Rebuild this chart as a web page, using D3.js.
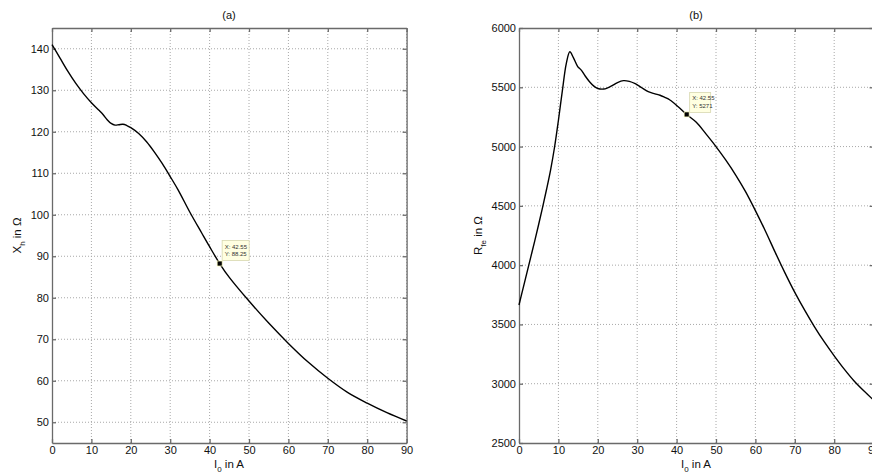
<!DOCTYPE html>
<html>
<head>
<meta charset="utf-8">
<script src="https://cdn.jsdelivr.net/npm/d3@7/dist/d3.min.js"></script>
<style>
  html, body { margin: 0; padding: 0; background: #fff; }
  svg { display: block; font-family: "Liberation Sans", Arial, sans-serif; }
</style>
</head>
<body>
<svg id="chart" width="872" height="472"></svg>
<script>
// ---- data ----
const xTicks = [0, 10, 20, 30, 40, 50, 60, 70, 80, 90];
const yTicksA = [50, 60, 70, 80, 90, 100, 110, 120, 130, 140];
const yTicksB = [2500, 3000, 3500, 4000, 4500, 5000, 5500, 6000];

const currentA = [0, 2, 4, 6, 8, 10, 12, 13, 14, 15, 16, 17, 18, 19, 20, 22, 24, 26, 28, 30, 32, 35, 38, 40, 42.55, 45, 50, 55, 60, 65, 70, 75, 80, 85, 90];
const xhA = [141, 137.8, 134.6, 131.7, 129.2, 127, 125.1, 124.1, 122.9, 122, 121.6, 121.7, 121.8, 121.5, 121, 119.6, 117.6, 115.1, 112.3, 109.2, 106.0, 100.6, 95.6, 92.3, 88.25, 84.9, 79.2, 73.9, 69, 64.5, 60.6, 57.2, 54.6, 52.3, 50.3];

const currentB = [0, 1, 2, 3, 4, 5, 6, 7, 8, 9, 10, 11, 12, 12.9, 13.8, 14.9, 15.8, 16.8, 17.9, 19, 20, 21.5, 22.5, 23.5, 25, 26.5, 28, 29.5, 31, 32.8, 34.5, 35.8, 37, 38.3, 40.4, 42.55, 45, 47.5, 50, 52.5, 55, 57.5, 60, 62.5, 65, 67.5, 70, 72.5, 75, 77.5, 80, 82.5, 85, 87.5, 90];
const rfeB = [3664, 3800, 3935, 4070, 4205, 4345, 4490, 4640, 4800, 4990, 5220, 5470, 5700, 5800, 5750, 5675, 5645, 5595, 5547, 5510, 5490, 5485, 5495, 5511, 5540, 5556, 5550, 5530, 5500, 5463, 5445, 5433, 5415, 5393, 5336, 5271, 5205, 5105, 5000, 4885, 4760, 4620, 4460, 4290, 4110, 3935, 3770, 3620, 3480, 3352, 3235, 3125, 3025, 2940, 2862];

const tipA = {x: 42.55, y: 88.25, lines: ["X: 42.55", "Y: 88.25"]};
const tipB = {x: 42.55, y: 5271, lines: ["X: 42.55", "Y: 5271"]};

// ---- drawing ----
const svg = d3.select("#chart");

function panel(opts) {
  const {left, right, top, bottom, xs, yDomain, yTicks, title, ylab, ysub, tip, tipDx, tipDy} = opts;
  const x = d3.scaleLinear().domain([0, 90]).range([left, right]);
  const y = d3.scaleLinear().domain(yDomain).range([bottom, top]);
  const g = svg.append("g");

  // grid
  g.append("g").selectAll("line").data(xTicks.slice(1)).join("line")
    .attr("x1", d => x(d)).attr("x2", d => x(d)).attr("y1", top).attr("y2", bottom)
    .attr("stroke", "#a8a8a8").attr("stroke-width", 1).attr("stroke-dasharray", "1,2");
  g.append("g").selectAll("line").data(yTicks.filter(d => d !== yDomain[0] && d !== yDomain[1])).join("line")
    .attr("x1", left).attr("x2", right).attr("y1", d => y(d)).attr("y2", d => y(d))
    .attr("stroke", "#a8a8a8").attr("stroke-width", 1).attr("stroke-dasharray", "1,2");

  // axes (box)
  const axCol = "#6a6a6a";
  const bAx = d3.axisBottom(x).tickValues(xTicks).tickSizeInner(-4).tickSizeOuter(0).tickPadding(3).tickFormat(d3.format("d"));
  const tAx = d3.axisTop(x).tickValues(xTicks).tickSizeInner(-4).tickSizeOuter(0).tickFormat("");
  const lAx = d3.axisLeft(y).tickValues(yTicks).tickSizeInner(-4).tickSizeOuter(0).tickPadding(3).tickFormat(d3.format("d"));
  const rAx = d3.axisRight(y).tickValues(yTicks).tickSizeInner(-4).tickSizeOuter(0).tickFormat("");
  const styleAx = sel => {
    sel.select(".domain").attr("stroke", axCol).attr("stroke-width", 1.3);
    sel.selectAll(".tick line").attr("stroke", axCol).attr("stroke-width", 1.3);
    sel.selectAll(".tick text").attr("fill", "#111").style("font-size", "11px").style("font-family", "Liberation Sans, Arial, sans-serif");
  };
  g.append("g").attr("transform", `translate(0,${bottom})`).call(bAx).call(styleAx);
  g.append("g").attr("transform", `translate(0,${top})`).call(tAx).call(styleAx);
  g.append("g").attr("transform", `translate(${left},0)`).call(lAx).call(styleAx);
  g.append("g").attr("transform", `translate(${right},0)`).call(rAx).call(styleAx);

  // curve
  const data = xs.map((d, i) => [d, opts.vals[i]]);
  g.append("path").datum(data)
    .attr("fill", "none").attr("stroke", "#000").attr("stroke-width", 1.4)
    .attr("d", d3.line().x(d => x(d[0])).y(d => y(d[1])).curve(d3.curveCatmullRom.alpha(0.5)));

  // title
  g.append("text").attr("x", opts.titleX).attr("y", 19).attr("text-anchor", "middle")
    .style("font-size", "11px").attr("fill", "#111").text(title);

  // x label
  const xl = g.append("text").attr("x", opts.titleX).attr("y", 468).attr("text-anchor", "middle")
    .style("font-size", "11.5px").attr("fill", "#111");
  xl.append("tspan").text("I");
  xl.append("tspan").attr("dy", 3.5).style("font-size", "8px").text("0");
  xl.append("tspan").attr("dy", -3.5).text(" in A");

  // y label
  const yl = g.append("text").attr("transform", `translate(${opts.ylabX},${(top + bottom) / 2}) rotate(-90)`)
    .attr("text-anchor", "middle").style("font-size", "11.5px").attr("fill", "#111");
  yl.append("tspan").text(ylab);
  yl.append("tspan").attr("dy", 3.5).style("font-size", "8px").text(ysub);
  yl.append("tspan").attr("dy", -3.5).text(" in Ω");

  // datatip
  const px = x(tip.x), py = y(tip.y);
  const bx = px + tipDx, by = py + tipDy;
  g.append("rect").attr("x", bx).attr("y", by).attr("width", opts.tipW).attr("height", 20)
    .attr("fill", "#ffffe1").attr("stroke", "#d8d8b0").attr("stroke-width", 0.8);
  tip.lines.forEach((t, i) => {
    g.append("text").attr("x", bx + 2.5).attr("y", by + 8 + i * 7.5)
      .style("font-size", "6px").attr("fill", "#333").text(t);
  });
  g.append("rect").attr("x", px - 2.5).attr("y", py - 2.5).attr("width", 5).attr("height", 5)
    .attr("fill", "#000").attr("stroke", "#ffffc0").attr("stroke-width", 0.7);
}

panel({left: 52, right: 406.6, top: 28, bottom: 443, xs: currentA, vals: xhA,
  yDomain: [45, 145], yTicks: yTicksA, title: "(a)", ylab: "X", ysub: "h",
  tip: tipA, tipDx: 2.5, tipDy: -23, tipW: 27, titleX: 229, ylabX: 21});

panel({left: 519, right: 873.6, top: 28, bottom: 443, xs: currentB, vals: rfeB,
  yDomain: [2500, 6000], yTicks: yTicksB, title: "(b)", ylab: "R", ysub: "fe",
  tip: tipB, tipDx: 3, tipDy: -22, tipW: 21, titleX: 696, ylabX: 482});
</script>
</body>
</html>
